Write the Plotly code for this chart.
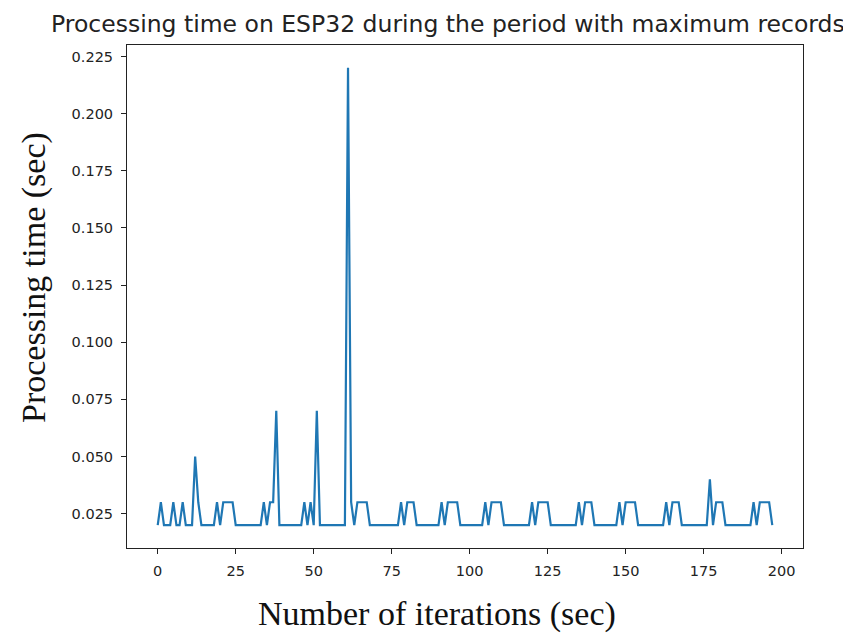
import plotly.graph_objects as go

iterations = list(range(198))
processing_time = [
    0.02, 0.03, 0.02, 0.02, 0.02, 0.03, 0.02, 0.02, 0.03, 0.02,
    0.02, 0.02, 0.05, 0.03, 0.02, 0.02, 0.02, 0.02, 0.02, 0.03,
    0.02, 0.03, 0.03, 0.03, 0.03, 0.02, 0.02, 0.02, 0.02, 0.02,
    0.02, 0.02, 0.02, 0.02, 0.03, 0.02, 0.03, 0.03, 0.07, 0.02,
    0.02, 0.02, 0.02, 0.02, 0.02, 0.02, 0.02, 0.03, 0.02, 0.03,
    0.02, 0.07, 0.02, 0.02, 0.02, 0.02, 0.02, 0.02, 0.02, 0.02,
    0.02, 0.22, 0.03, 0.02, 0.03, 0.03, 0.03, 0.03, 0.02, 0.02,
    0.02, 0.02, 0.02, 0.02, 0.02, 0.02, 0.02, 0.02, 0.03, 0.02,
    0.03, 0.03, 0.03, 0.02, 0.02, 0.02, 0.02, 0.02, 0.02, 0.02,
    0.02, 0.03, 0.02, 0.03, 0.03, 0.03, 0.03, 0.02, 0.02, 0.02,
    0.02, 0.02, 0.02, 0.02, 0.02, 0.03, 0.02, 0.03, 0.03, 0.03,
    0.03, 0.02, 0.02, 0.02, 0.02, 0.02, 0.02, 0.02, 0.02, 0.02,
    0.03, 0.02, 0.03, 0.03, 0.03, 0.03, 0.02, 0.02, 0.02, 0.02,
    0.02, 0.02, 0.02, 0.02, 0.02, 0.03, 0.02, 0.03, 0.03, 0.03,
    0.02, 0.02, 0.02, 0.02, 0.02, 0.02, 0.02, 0.02, 0.03, 0.02,
    0.03, 0.03, 0.03, 0.03, 0.02, 0.02, 0.02, 0.02, 0.02, 0.02,
    0.02, 0.02, 0.02, 0.03, 0.02, 0.03, 0.03, 0.03, 0.02, 0.02,
    0.02, 0.02, 0.02, 0.02, 0.02, 0.02, 0.02, 0.04, 0.02, 0.03,
    0.03, 0.03, 0.02, 0.02, 0.02, 0.02, 0.02, 0.02, 0.02, 0.02,
    0.02, 0.03, 0.02, 0.03, 0.03, 0.03, 0.03, 0.02,
]

x_ticks = [0, 25, 50, 75, 100, 125, 150, 175, 200]
y_ticks = [0.025, 0.05, 0.075, 0.1, 0.125, 0.15, 0.175, 0.2, 0.225]

title_text = "Processing time on ESP32 during the period with maximum records"
x_label = "Number of iterations (sec)"
y_label = "Processing time (sec)"

# page body adds an 8px offset; compensate so the plot lands where the reference has it
OFF = 8
W, H = 851 - OFF, 635 - OFF
L, R, T, B = 127 - OFF, 48, 45 - OFF, 87

fig = go.Figure()
fig.add_trace(go.Scatter(
    x=iterations, y=processing_time, mode="lines",
    line=dict(color="#1f77b4", width=2.2), showlegend=False,
))

xmin, xmax = min(iterations), max(iterations)
xpad = (xmax - xmin) * 0.05
ymin, ymax = min(processing_time), max(processing_time)
ypad = (ymax - ymin) * 0.05

axis_common = dict(
    showline=True, mirror=True, linecolor="#222", linewidth=1,
    ticks="outside", ticklen=5, tickwidth=1, tickcolor="#222",
    showgrid=False, zeroline=False,
    tickfont=dict(family="DejaVu Sans", size=14.5, color="#222"),
    ticklabelstandoff=5,
)

fig.update_xaxes(range=[xmin - xpad, xmax + xpad], tickvals=x_ticks,
                 ticktext=[str(v) for v in x_ticks], **axis_common)
fig.update_yaxes(range=[ymin - ypad, ymax + ypad], tickvals=y_ticks,
                 ticktext=[f"{v:.3f}" for v in y_ticks], **axis_common)

def px_x(p):
    return (p - OFF - L) / (W - L - R)

def px_y(p):
    return 1 - (p - OFF - T) / (H - T - B)

fig.add_annotation(text=title_text, xref="paper", yref="paper",
                   x=px_x(448), y=px_y(24), showarrow=False,
                   xanchor="center", yanchor="middle",
                   font=dict(family="DejaVu Sans", size=23.5, color="#222"))
fig.add_annotation(text=x_label, xref="paper", yref="paper",
                   x=px_x(437), y=px_y(614), showarrow=False,
                   xanchor="center", yanchor="middle",
                   font=dict(family="Liberation Serif", size=34, color="#111"))
fig.add_annotation(text=y_label, xref="paper", yref="paper",
                   x=px_x(34), y=px_y(278), showarrow=False, textangle=-90,
                   xanchor="center", yanchor="middle",
                   font=dict(family="Liberation Serif", size=34, color="#111"))

fig.update_layout(
    width=W, height=H,
    margin=dict(l=L, r=R, t=T, b=B),
    paper_bgcolor="white", plot_bgcolor="white",
)

fig.write_html("out.html")
